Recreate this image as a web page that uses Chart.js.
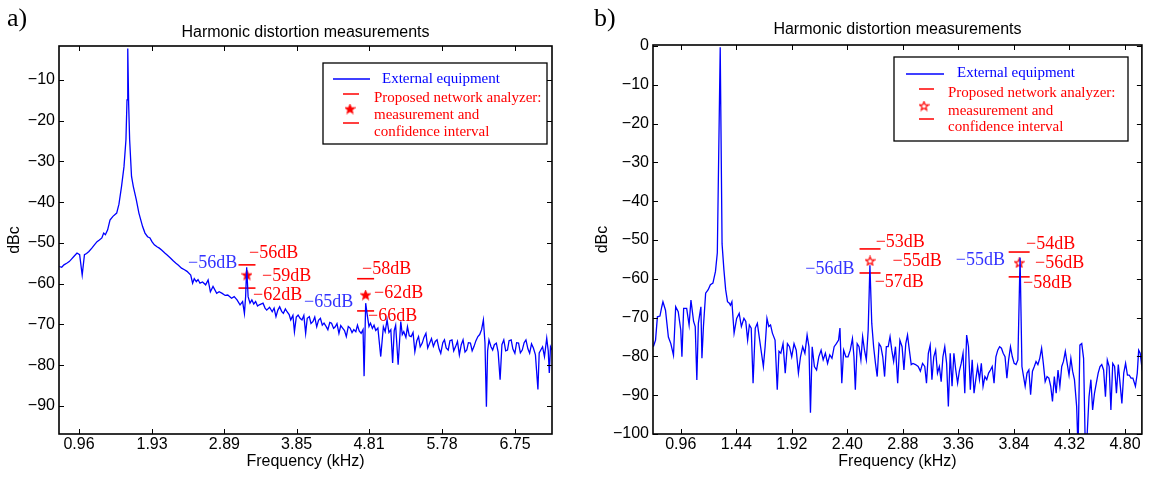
<!DOCTYPE html>
<html><head><meta charset="utf-8">
<script src="https://cdn.jsdelivr.net/npm/chart.js@4.4.1/dist/chart.umd.min.js"></script>
<style>
html,body{margin:0;padding:0;background:#fff;width:1154px;height:479px;overflow:hidden}
.panel{position:absolute;top:0;width:577px;height:479px}
#pa{left:0}#pb{left:577px}
</style></head><body>
<div class="panel" id="pa"><canvas id="ca" width="577" height="479"></canvas></div>
<div class="panel" id="pb"><canvas id="cb" width="577" height="479"></canvas></div>
<script>
// ---------- DATA: panel a ----------
const freqA = [0.698,0.73,0.76,0.796,0.83,0.86,0.894,0.933,0.968,1.002,1.032,1.06,1.091,1.13,1.164,1.199,1.23,1.263,1.287,1.31,1.34,1.371,1.41,1.46,1.49,1.524,1.557,1.583,1.597,1.607,1.619,1.632,1.657,1.681,1.72,1.755,1.804,1.836,1.87,1.902,1.928,1.96,2.0,2.026,2.06,2.099,2.13,2.173,2.21,2.247,2.28,2.321,2.36,2.394,2.443,2.468,2.49,2.517,2.54,2.566,2.6,2.641,2.674,2.704,2.739,2.788,2.82,2.861,2.9,2.935,2.985,3.02,3.058,3.098,3.132,3.156,3.172,3.186,3.205,3.23,3.255,3.28,3.305,3.33,3.354,3.403,3.43,3.452,3.49,3.525,3.55,3.575,3.6,3.624,3.65,3.673,3.7,3.722,3.75,3.771,3.8,3.82,3.845,3.869,3.895,3.92,3.945,3.969,3.99,4.018,4.04,4.067,4.09,4.116,4.14,4.165,4.19,4.213,4.24,4.264,4.29,4.313,4.34,4.362,4.385,4.411,4.435,4.46,4.485,4.509,4.535,4.559,4.585,4.608,4.635,4.657,4.68,4.706,4.731,4.745,4.766,4.79,4.81,4.83,4.855,4.877,4.9,4.928,4.966,5.001,5.025,5.05,5.075,5.1,5.124,5.145,5.164,5.197,5.232,5.252,5.272,5.3,5.321,5.345,5.37,5.395,5.419,5.445,5.468,5.49,5.517,5.54,5.566,5.59,5.616,5.64,5.665,5.69,5.714,5.74,5.763,5.79,5.812,5.835,5.862,5.885,5.912,5.935,5.961,5.985,6.01,6.035,6.059,6.085,6.108,6.13,6.157,6.18,6.205,6.23,6.256,6.28,6.305,6.329,6.35,6.369,6.385,6.403,6.43,6.452,6.475,6.501,6.525,6.551,6.575,6.6,6.625,6.649,6.67,6.698,6.72,6.747,6.77,6.796,6.82,6.845,6.87,6.894,6.92,6.943,6.968,6.993,7.02,7.053,7.07,7.091,7.115,7.14,7.17,7.19,7.204,7.22,7.24];
const dbA = [-55.8,-56.0,-55.4,-55.0,-54.6,-54.0,-53.3,-52.5,-52.9,-57.9,-52.9,-52.6,-52.1,-51.3,-50.5,-49.7,-49.3,-48.8,-47.6,-48.0,-46.8,-44.4,-43.5,-42.7,-40.5,-36.2,-31.3,-24.7,-14.9,-2.3,-16.0,-24.7,-33.7,-36.2,-39.4,-42.7,-46.0,-47.6,-48.5,-48.8,-49.7,-50.5,-51.0,-51.3,-51.8,-52.5,-53.0,-53.7,-54.4,-55.0,-55.5,-56.2,-56.6,-57.0,-57.9,-59.9,-58.8,-59.5,-59.0,-59.9,-59.6,-60.3,-59.1,-62.0,-60.7,-62.4,-62.0,-62.4,-62.9,-62.8,-63.6,-63.2,-64.0,-65.2,-64.4,-67.3,-63.2,-56.0,-63.2,-64.8,-64.0,-65.0,-64.4,-65.5,-65.2,-64.8,-66.0,-66.5,-65.8,-66.9,-66.0,-68.1,-66.5,-65.7,-66.8,-67.3,-66.2,-66.9,-67.6,-68.9,-67.8,-71.8,-68.2,-67.7,-68.5,-68.9,-67.8,-72.2,-68.5,-68.1,-69.8,-69.3,-68.2,-70.6,-69.0,-68.5,-70.2,-69.7,-70.5,-71.3,-69.5,-69.7,-71.0,-70.6,-69.8,-72.2,-70.3,-70.9,-71.5,-73.0,-70.5,-70.9,-72.0,-71.3,-71.8,-70.2,-71.6,-72.2,-71.3,-82.7,-64.8,-68.1,-70.5,-69.7,-71.0,-70.2,-71.5,-70.9,-77.9,-70.6,-71.8,-68.9,-72.0,-71.3,-79.5,-71.5,-70.2,-79.9,-69.3,-72.5,-71.8,-73.2,-70.6,-72.8,-73.0,-72.0,-76.7,-74.0,-73.0,-75.5,-74.6,-73.2,-72.2,-75.8,-74.6,-73.5,-75.4,-74.2,-73.8,-76.0,-77.1,-74.5,-73.8,-75.8,-76.3,-74.0,-73.8,-76.5,-75.4,-74.2,-77.5,-75.0,-73.8,-76.8,-76.3,-74.5,-74.6,-76.5,-75.4,-74.0,-73.0,-72.5,-71.3,-68.9,-74.5,-90.2,-76.5,-73.8,-75.5,-76.3,-75.0,-74.6,-76.8,-83.6,-75.0,-73.8,-76.5,-76.3,-74.0,-73.8,-76.0,-77.1,-74.5,-74.6,-77.0,-76.3,-74.5,-73.8,-76.0,-77.1,-74.8,-75.8,-77.5,-86.0,-77.0,-76.3,-75.5,-77.9,-73.4,-76.5,-81.9,-75.5,-76.3];
const harmFreqA = [3.19, 4.765];
const harmUpperA = [-55.4, -58.8];
const harmMeasA = [-57.9, -62.8];
const harmLowerA = [-61.1, -66.7];
const xTicksA = [0.96,1.93,2.89,3.85,4.81,5.78,6.75];
const xLabelsA = ['0.96','1.93','2.89','3.85','4.81','5.78','6.75'];
const yTicksA = [-10,-20,-30,-40,-50,-60,-70,-80,-90];
const yLabelsA = ['\u221210','\u221220','\u221230','\u221240','\u221250','\u221260','\u221270','\u221280','\u221290'];

// ---------- DATA: panel b ----------
const freqB = [0.723,0.742,0.758,0.78,0.796,0.806,0.828,0.853,0.874,0.897,0.916,0.938,0.96,0.97,0.985,1.011,1.032,1.048,1.071,1.085,1.099,1.112,1.134,1.143,1.156,1.175,1.197,1.216,1.238,1.26,1.276,1.301,1.317,1.333,1.348,1.364,1.38,1.389,1.402,1.421,1.443,1.465,1.484,1.506,1.522,1.538,1.553,1.569,1.585,1.604,1.622,1.642,1.658,1.674,1.689,1.705,1.721,1.736,1.752,1.775,1.794,1.809,1.825,1.844,1.863,1.882,1.9,1.919,1.939,1.958,1.977,1.995,2.014,2.033,2.052,2.068,2.081,2.096,2.115,2.134,2.153,2.173,2.191,2.21,2.229,2.248,2.267,2.286,2.305,2.324,2.336,2.352,2.368,2.387,2.406,2.425,2.444,2.457,2.469,2.485,2.501,2.517,2.532,2.548,2.564,2.58,2.595,2.611,2.627,2.643,2.658,2.674,2.69,2.706,2.722,2.737,2.753,2.769,2.784,2.8,2.816,2.835,2.854,2.873,2.889,2.905,2.92,2.936,2.952,2.967,2.989,3.012,3.031,3.05,3.069,3.084,3.1,3.116,3.131,3.147,3.163,3.179,3.195,3.211,3.226,3.242,3.258,3.273,3.289,3.305,3.321,3.337,3.353,3.368,3.384,3.4,3.415,3.431,3.447,3.463,3.479,3.495,3.51,3.526,3.542,3.558,3.573,3.589,3.605,3.621,3.637,3.652,3.668,3.684,3.7,3.716,3.732,3.747,3.763,3.779,3.794,3.81,3.826,3.842,3.858,3.874,3.893,3.909,3.921,3.937,3.953,3.969,3.984,4.0,4.016,4.031,4.047,4.063,4.079,4.094,4.11,4.126,4.142,4.158,4.173,4.189,4.205,4.221,4.237,4.253,4.268,4.284,4.3,4.316,4.332,4.347,4.363,4.382,4.394,4.41,4.426,4.442,4.457,4.473,4.489,4.505,4.52,4.536,4.552,4.568,4.584,4.599,4.615,4.631,4.647,4.663,4.678,4.694,4.71,4.726,4.742,4.757,4.773,4.789,4.805,4.821,4.836,4.852,4.868,4.89,4.906,4.918,4.931,4.95];
const dbB = [-77.5,-75.8,-69.8,-69.6,-67.2,-65.9,-68.1,-75.0,-76.7,-79.7,-67.2,-68.5,-73.2,-80.1,-67.6,-67.6,-71.9,-65.5,-71.0,-72.3,-86.1,-71.5,-67.2,-80.5,-72.3,-63.7,-62.8,-61.5,-61.1,-58.1,-53.3,-0.3,-51.0,-57.7,-62.8,-65.9,-66.3,-66.8,-65.9,-74.0,-70.2,-68.9,-72.3,-70.2,-71.0,-75.8,-71.9,-72.7,-86.9,-72.7,-71.5,-75.8,-79.2,-82.6,-77.5,-70.2,-72.3,-71.9,-74.0,-75.8,-88.6,-78.7,-79.2,-76.7,-84.3,-76.7,-77.5,-80.1,-76.7,-78.4,-84.3,-80.1,-77.5,-79.2,-74.5,-77.5,-94.5,-77.5,-82.6,-83.5,-80.1,-78.4,-80.9,-79.2,-81.8,-79.6,-80.5,-77.5,-76.7,-75.8,-72.7,-86.9,-78.4,-80.1,-80.1,-78.4,-75.4,-80.1,-88.6,-76.7,-77.5,-80.9,-74.9,-78.4,-80.9,-73.2,-56.5,-71.5,-77.5,-81.8,-85.2,-76.7,-77.5,-80.1,-85.2,-77.5,-77.5,-74.9,-78.4,-81.3,-77.5,-86.9,-75.8,-77.5,-83.5,-76.7,-74.5,-78.4,-82.1,-81.8,-82.1,-82.6,-83.8,-81.8,-82.6,-86.9,-79.2,-77.1,-86.0,-80.1,-78.4,-84.3,-82.6,-86.5,-80.1,-77.5,-81.8,-92.9,-79.2,-87.7,-79.2,-83.5,-86.9,-83.8,-81.8,-79.2,-89.5,-74.5,-77.5,-88.6,-80.9,-89.5,-86.0,-82.6,-86.0,-81.8,-87.7,-85.2,-86.0,-84.3,-83.5,-82.6,-86.9,-80.1,-78.4,-77.5,-77.9,-79.2,-80.1,-85.6,-80.9,-77.5,-80.1,-81.8,-82.1,-80.9,-54.5,-82.6,-84.8,-87.7,-84.3,-83.5,-89.9,-83.8,-82.6,-81.3,-82.1,-80.5,-77.9,-81.8,-86.5,-85.2,-85.6,-87.7,-91.6,-85.2,-89.5,-83.5,-87.7,-82.6,-81.3,-78.7,-81.8,-84.8,-80.5,-83.8,-86.0,-92.9,-104.0,-77.1,-76.7,-80.5,-104.0,-100.0,-90.4,-86.0,-93.8,-89.5,-86.9,-84.3,-82.6,-82.1,-83.5,-90.4,-80.9,-82.6,-93.8,-81.8,-82.6,-89.5,-82.1,-86.9,-92.1,-84.3,-81.8,-84.8,-84.8,-85.6,-85.6,-87.7,-84.3,-78.4,-79.2,-83.8];
const harmFreqB = [2.596, 3.885];
const harmUpperB = [-52.3, -53.1];
const harmMeasB = [-55.4, -55.9];
const harmLowerB = [-58.5, -59.5];
const xTicksB = [0.96,1.44,1.92,2.40,2.88,3.36,3.84,4.32,4.80];
const xLabelsB = ['0.96','1.44','1.92','2.40','2.88','3.36','3.84','4.32','4.80'];
const yTicksB = [0,-10,-20,-30,-40,-50,-60,-70,-80,-90,-100];
const yLabelsB = ['0','\u221210','\u221220','\u221230','\u221240','\u221250','\u221260','\u221270','\u221280','\u221290','\u2212100'];

// ---------- TEXT ----------
const chartTitle = 'Harmonic distortion measurements';
const xTitle = 'Frequency (kHz)';
const yTitle = 'dBc';
const legendTexts = ['External equipment','Proposed network analyzer:','measurement and','confidence interval'];
// annotation labels: text, anchor frequency (kHz), anchor level (dB), colour key
const notesA = [
  ['\u221256dB', 2.407, -54.9, 'b'], ['\u221265dB', 3.948, -64.7, 'b'],
  ['\u221256dB', 3.217, -52.5, 'r'], ['\u221259dB', 3.39, -58.1, 'r'], ['\u221262dB', 3.27, -62.8, 'r'],
  ['\u221258dB', 4.718, -56.6, 'r'], ['\u221262dB', 4.877, -62.3, 'r'], ['\u221266dB', 4.798, -67.9, 'r']
];
const notesB = [
  ['\u221253dB', 2.645, -50.5, 'r'], ['\u221255dB', 2.79, -55.4, 'r'], ['\u221256dB', 2.037, -57.5, 'b'], ['\u221257dB', 2.636, -60.8, 'r'],
  ['\u221254dB', 3.945, -51.0, 'r'], ['\u221255dB', 3.338, -55.2, 'b'], ['\u221256dB', 4.022, -55.9, 'r'], ['\u221258dB', 3.919, -61.1, 'r']
];

// ---------- drawing helpers ----------
function makeStar(filled) {
  const c = document.createElement('canvas'); c.width = 11; c.height = 11;
  const g = c.getContext('2d'); g.beginPath();
  for (let i = 0; i < 10; i++) {
    const r = i % 2 === 0 ? 4.6 : 2.0; const a = -Math.PI / 2 + i * Math.PI / 5;
    const px = 5.5 + r * Math.cos(a), py = 5.8 + r * Math.sin(a);
    i === 0 ? g.moveTo(px, py) : g.lineTo(px, py);
  }
  g.closePath(); g.lineWidth = 1.2; g.strokeStyle = '#ff0000';
  if (filled) { g.fillStyle = '#ff0000'; g.fill(); }
  g.stroke(); return c;
}

const decor = {
  id: 'decor',
  afterDraw(chart, args, o) {
    const ctx = chart.ctx, a = chart.chartArea, xs = chart.scales.x, ys = chart.scales.y;
    const ln = (x1, y1, x2, y2) => { ctx.beginPath(); ctx.moveTo(x1, y1); ctx.lineTo(x2, y2); ctx.stroke(); };
    ctx.save();
    // notes
    ctx.font = '18px "Liberation Serif"'; ctx.textBaseline = 'middle'; ctx.textAlign = 'left';
    o.notes.forEach(n => {
      ctx.fillStyle = n[3] === 'b' ? '#3333ff' : '#ff0000';
      ctx.fillText(n[0], xs.getPixelForValue(n[1]), ys.getPixelForValue(n[2]));
    });
    // inward ticks
    ctx.strokeStyle = '#000'; ctx.lineWidth = 1;
    xs.ticks.forEach(t => { const p = Math.round(xs.getPixelForValue(t.value)) + 0.5; ln(p, a.bottom, p, a.bottom - 5); ln(p, a.top, p, a.top + 5); });
    ys.ticks.forEach(t => { const p = Math.round(ys.getPixelForValue(t.value)) + 0.5; ln(a.left, p, a.left + 5, p); ln(a.right, p, a.right - 5, p); });
    // frame
    ctx.lineWidth = 1.6; ctx.strokeRect(a.left, a.top, a.right - a.left, a.bottom - a.top);
    // legend
    const L = o.legend;
    ctx.fillStyle = '#fff'; ctx.fillRect(L.x, L.y, L.w, L.h);
    ctx.lineWidth = 1.3; ctx.strokeStyle = '#000'; ctx.strokeRect(L.x, L.y, L.w, L.h);
    ctx.strokeStyle = '#0000ff'; ctx.lineWidth = 1.3; ln(L.bx1, L.by, L.bx2, L.by);
    ctx.font = '15px "Liberation Serif"'; ctx.textBaseline = 'middle'; ctx.fillStyle = '#0000ff';
    ctx.fillText(legendTexts[0], L.tx, L.ty);
    ctx.strokeStyle = '#ff0000'; ctx.lineWidth = 1.5;
    ln(L.rx1, L.ry1, L.rx2, L.ry1); ln(L.rx1, L.ry2, L.rx2, L.ry2);
    ctx.drawImage(o.star, L.sx - 5.5, L.sy - 5.5);
    ctx.fillStyle = '#ff0000';
    ctx.fillText(legendTexts[1], L.rtx, L.rty[0]);
    ctx.fillText(legendTexts[2], L.rtx, L.rty[1]);
    ctx.fillText(legendTexts[3], L.rtx, L.rty[2]);
    // panel label
    ctx.font = '26px "Liberation Serif"'; ctx.textBaseline = 'alphabetic'; ctx.fillStyle = '#000';
    ctx.fillText(o.label, o.labelX, 26);
    ctx.restore();
  }
};

const sans = { family: '"Liberation Sans", Arial, sans-serif', size: 16 };

function build(id, c) {
  const star = makeStar(c.filled);
  const line = c.freq.map((f, i) => ({ x: f, y: c.db[i] }));
  const caps = [];
  c.hf.forEach((f, i) => { caps.push({ x: f, y: c.up[i] }); caps.push({ x: f, y: c.lo[i] }); });
  const meas = c.hf.map((f, i) => ({ x: f, y: c.me[i] }));
  return new Chart(document.getElementById(id), {
    type: 'line',
    data: { datasets: [
      { data: line, borderColor: '#0000ff', borderWidth: 1.3, pointRadius: 0, tension: 0, fill: false },
      { data: caps, showLine: false, pointStyle: 'line', pointRadius: c.capR, pointBorderColor: '#ff0000', pointBackgroundColor: '#ff0000', pointBorderWidth: 1.6 },
      { data: meas, showLine: false, pointStyle: star, pointRadius: 4, pointBorderColor: '#ff0000', pointBackgroundColor: '#ff0000' }
    ]},
    options: {
      responsive: false, animation: false, devicePixelRatio: 1,
      layout: { padding: { left: 0, right: c.padR, top: 0, bottom: 0 } },
      plugins: {
        legend: { display: false }, tooltip: { enabled: false },
        title: { display: true, text: chartTitle, fullSize: false, color: '#000', font: { ...sans, weight: 'normal' }, padding: { top: c.tTop, bottom: c.tBot } },
        decor: { notes: c.notes, legend: c.legend, star: star, label: c.label, labelX: c.labelX }
      },
      scales: {
        x: { type: 'linear', min: c.xmin, max: c.xmax,
          afterBuildTicks: s => { s.ticks = c.xt.map(v => ({ value: v })); },
          afterFit: s => { s.height = 45; },
          ticks: { callback: (v, i) => c.xl[i], color: '#000', font: sans, padding: 1, maxRotation: 0, autoSkip: false },
          grid: { display: false, drawTicks: false }, border: { display: false },
          title: { display: true, text: xTitle, color: '#000', font: sans, padding: { top: 0, bottom: 7.4 } } },
        y: { type: 'linear', min: c.ymin, max: c.ymax,
          afterBuildTicks: s => { s.ticks = c.yt.map(v => ({ value: v })); },
          afterFit: s => { s.width = c.yW; },
          ticks: { callback: (v, i) => c.yl[i], color: '#000', font: sans, padding: 4, autoSkip: false },
          grid: { display: false, drawTicks: false }, border: { display: false },
          title: { display: true, text: yTitle, color: '#000', font: sans, padding: { top: c.yTitlePad, bottom: 0 } } }
      }
    },
    plugins: [decor]
  });
}

build('ca', {
  freq: freqA, db: dbA, hf: harmFreqA, up: harmUpperA, me: harmMeasA, lo: harmLowerA,
  xt: xTicksA, xl: xLabelsA, yt: yTicksA, yl: yLabelsA, notes: notesA,
  xmin: 0.694, xmax: 7.24, ymin: -96.9, ymax: -1.7,
  padR: 25, yW: 59, tTop: 23.4, tBot: 3.4, yTitlePad: 5.4, capR: 8.5, filled: true,
  label: 'a)', labelX: 7,
  legend: { x: 323, y: 63, w: 224, h: 81, bx1: 333, bx2: 370, by: 79, tx: 382, ty: 79,
            rx1: 343, rx2: 359, ry1: 94, ry2: 123, sx: 350, sy: 109, rtx: 374, rty: [98, 115, 132] }
});
build('cb', {
  freq: freqB, db: dbB, hf: harmFreqB, up: harmUpperB, me: harmMeasB, lo: harmLowerB,
  xt: xTicksB, xl: xLabelsB, yt: yTicksB, yl: yLabelsB, notes: notesB,
  xmin: 0.72, xmax: 4.946, ymin: -100, ymax: 0.26,
  padR: 7, yW: 76, tTop: 20.4, tBot: 5.4, yTitlePad: 16.4, capR: 10.5, filled: false,
  label: 'b)', labelX: 17,
  legend: { x: 317, y: 57, w: 234, h: 84, bx1: 329, bx2: 367, by: 74, tx: 380, ty: 73,
            rx1: 342, rx2: 357, ry1: 89, ry2: 119, sx: 347, sy: 106, rtx: 371, rty: [93, 111, 127] }
});
</script>
</body></html>
